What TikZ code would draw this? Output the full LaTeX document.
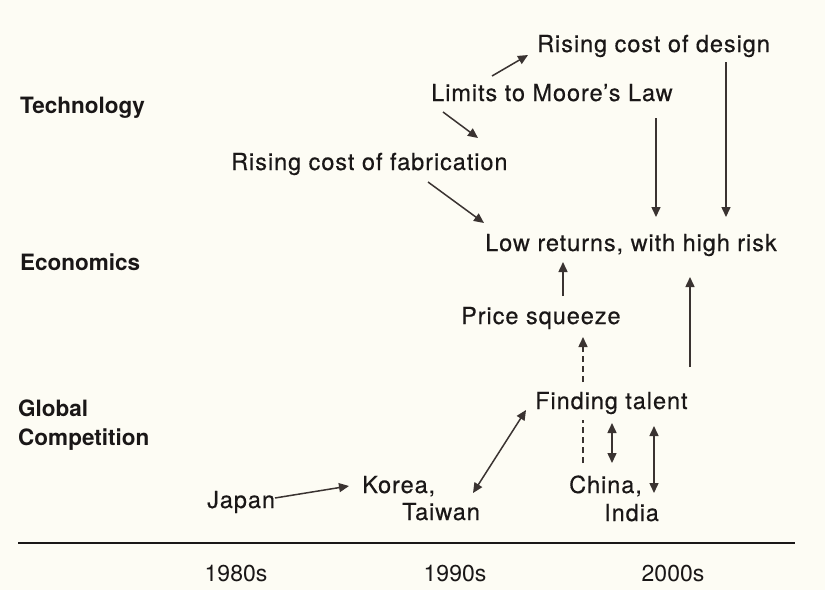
\documentclass[tikz,border=0pt]{standalone}
\usepackage{fontspec}
\setmainfont{TeX Gyre Heros}
\newfontfamily\lblfont[LetterSpace=4,FakeBold=0.4]{TeX Gyre Heros}
\usetikzlibrary{arrows.meta}
\definecolor{bgc}{HTML}{FDFCF4}
\definecolor{ink}{HTML}{1A1717}
\definecolor{arc}{HTML}{3A3331}
\tikzset{
  lbl/.style={font=\lblfont\fontsize{23.5}{28}\selectfont, text=ink, inner sep=0pt, anchor=base west},
  cat/.style={font=\bfseries\fontsize{22.5}{26}\selectfont, text=ink, inner sep=0pt, anchor=base west},
  yr/.style={font=\fontsize{23}{28}\selectfont, text=ink, inner sep=0pt, anchor=base},
  arr/.style={draw=arc, line width=1.5pt, -{Triangle[length=10pt,width=9pt]}},
  darr/.style={draw=arc, line width=1.5pt, {Triangle[length=10pt,width=9pt]}-{Triangle[length=10pt,width=9pt]}},
  dsh/.style={draw=arc, line width=1.5pt, dash pattern=on 6pt off 4pt},
}
\begin{document}
\begin{tikzpicture}[x=1pt,y=-1pt]
\fill[bgc] (0,0) rectangle (825,590);
\useasboundingbox (0,0) rectangle (825,590);
% category labels
\node[cat] (tech) at (20,113) {Technology};
\node[cat] (econ) at (20,270) {Economics};
\node[cat] (glob) at (18,416) {Global};
\node[cat] (comp) at (18,445) {Competition};
% items
\node[lbl] (design) at (537,52) {Rising cost of design};
\node[lbl] (limits) at (431,101) {Limits to Moore’s Law};
\node[lbl] (fab) at (231,170) {Rising cost of fabrication};
\node[lbl] (low) at (485,251) {Low returns, with high risk};
\node[lbl] (squeeze) at (461,324) {Price squeeze};
\node[lbl] (talent) at (535,409) {Finding talent};
\node[lbl] (japan) at (207,508) {Japan};
\node[lbl] (korea) at (362,493) {Korea,};
\node[lbl] (taiwan) at (402,520) {Taiwan};
\node[lbl] (china) at (569,493) {China,};
\node[lbl] (india) at (604,521) {India};
% time axis
\coordinate (axl) at (18,543);
\coordinate (axr) at (795,543);
\draw[draw=ink, line width=2pt] (axl) -- (axr);
\node[yr] (y80) at (236,581) {1980s};
\node[yr] (y90) at (455,581) {1990s};
\node[yr] (y00) at (673,581) {2000s};
% connectors
\draw[arr] ([shift={(61pt,25pt)}]limits.base west) -- ([shift={(-9pt,-3pt)}]design.base west);
\draw[arr] ([shift={(12pt,-11pt)}]limits.base west) -- ([shift={(247pt,32pt)}]fab.base west);
\draw[arr] ([shift={(197pt,-12pt)}]fab.base west) -- ([shift={(-1pt,28pt)}]low.base west);
\draw[arr] ([shift={(225pt,-17pt)}]limits.base west) -- ([shift={(171pt,34pt)}]low.base west);
\draw[arr] ([shift={(189pt,-10pt)}]design.base west) -- ([shift={(241pt,34pt)}]low.base west);
\draw[arr] ([shift={(102pt,28pt)}]squeeze.base west) -- ([shift={(78pt,-11pt)}]low.base west);
\draw[arr] ([shift={(155pt,42pt)}]talent.base west) -- ([shift={(205pt,-26pt)}]low.base west);
\draw[dsh] ([shift={(14pt,30pt)}]china.base west) -- ([shift={(48pt,-11pt)}]talent.base west);
\draw[dsh, -{Triangle[length=10pt,width=9pt]}] ([shift={(48pt,27pt)}]talent.base west) -- ([shift={(122pt,-13pt)}]squeeze.base west);
\draw[darr] ([shift={(77pt,-14pt)}]talent.base west) -- ([shift={(43pt,30pt)}]china.base west);
\draw[darr] ([shift={(119pt,-17pt)}]talent.base west) -- ([shift={(50pt,28pt)}]india.base west);
\draw[darr] ([shift={(71pt,27pt)}]taiwan.base west) -- ([shift={(-9pt,-1pt)}]talent.base west);
\draw[arr] ([shift={(68pt,10pt)}]japan.base west) -- ([shift={(-13pt,7pt)}]korea.base west);
\end{tikzpicture}
\end{document}
